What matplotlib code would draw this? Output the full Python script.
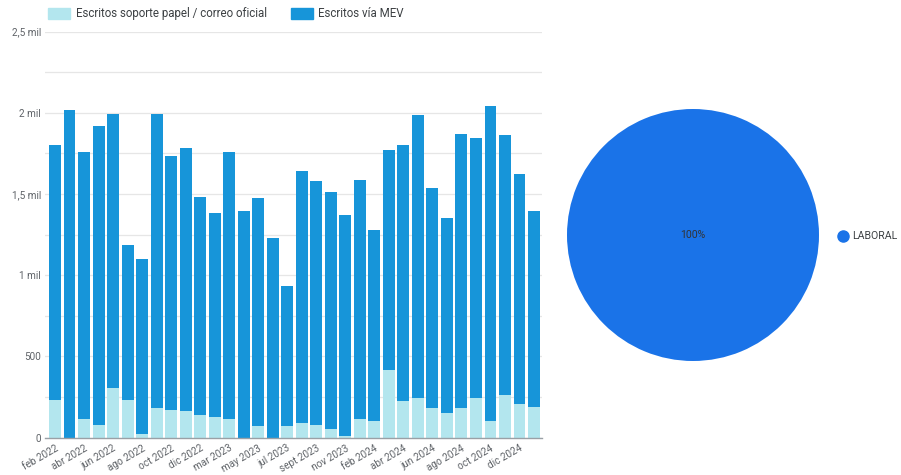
import matplotlib.pyplot as plt
from matplotlib.lines import Line2D
from matplotlib.patches import Rectangle

plt.rcParams['font.family'] = ['Roboto', 'DejaVu Sans']

# months shown (January is judicial recess, no data)
months = ['feb 2022', 'mar 2022', 'abr 2022', 'may 2022', 'jun 2022', 'jul 2022',
          'ago 2022', 'sept 2022', 'oct 2022', 'nov 2022', 'dic 2022',
          'feb 2023', 'mar 2023', 'abr 2023', 'may 2023', 'jun 2023', 'jul 2023',
          'ago 2023', 'sept 2023', 'oct 2023', 'nov 2023', 'dic 2023',
          'feb 2024', 'mar 2024', 'abr 2024', 'may 2024', 'jun 2024', 'jul 2024',
          'ago 2024', 'sept 2024', 'oct 2024', 'nov 2024', 'dic 2024', 'feb 2025']

totales = [1800, 2015, 1760, 1922, 1992, 1185, 1097, 1990, 1735, 1781, 1480,
           1380, 1760, 1398, 1475, 1226, 934, 1642, 1580, 1510, 1370, 1584,
           1278, 1770, 1800, 1986, 1538, 1354, 1870, 1846, 2040, 1866, 1622, 1398]

papel = [230, 0, 113, 77, 303, 230, 20, 180, 169, 163, 139,
         128, 114, 0, 71, 0, 71, 91, 77, 52, 11, 114,
         102, 416, 225, 245, 180, 153, 184, 241, 104, 262, 206, 190]

mev = [t - p for t, p in zip(totales, papel)]

series = ['Escritos soporte papel / correo oficial', 'Escritos vía MEV']
pie_labels = ['LABORAL']
pie_values = [100]

c_papel = '#b3e6ee'
c_mev = '#1795d9'
c_pie = '#1a73e8'
gris = '#5f6368'

W, H = 901, 475
fig = plt.figure(figsize=(W / 100, H / 100), dpi=100)

# bar chart
ax = fig.add_axes([45 / W, 37.5 / H, 497 / W, 405.8 / H])
x = list(range(len(months)))
ax.bar(x, papel, width=0.82, color=c_papel, zorder=3)
ax.bar(x, mev, bottom=papel, width=0.82, color=c_mev, zorder=3)

ax.set_ylim(0, 2500)
ax.set_xlim(-0.69, len(months) - 1 + 0.55)
ax.set_yticks([0, 500, 1000, 1500, 2000, 2500])
ax.set_yticklabels(['0', '500', '1 mil', '1,5 mil', '2 mil', '2,5 mil'])
ax.set_yticks([250, 750, 1250, 1750, 2250], minor=True)
ax.grid(axis='y', which='both', color='#e6e6e6', linewidth=0.9, zorder=0)
ax.set_xticks(x[::2])
ax.set_xticklabels(months[::2], rotation=30, ha='right', rotation_mode='anchor')
ax.tick_params(axis='both', which='both', length=0, labelsize=7.2, labelcolor=gris)
ax.tick_params(axis='y', pad=3)
ax.tick_params(axis='x', pad=4)
for s in ['top', 'right', 'left']:
    ax.spines[s].set_visible(False)
ax.spines['bottom'].set_color('#9aa0a6')
ax.spines['bottom'].set_linewidth(1)
ax.spines['bottom'].set_zorder(4)

# legend drawn by hand to match the positions
for x0, x_txt, col, lab in [(48, 76, c_papel, series[0]), (291, 318, c_mev, series[1])]:
    fig.add_artist(Rectangle((x0 / W, 1 - 19 / H), 22 / W, 11 / H,
                             transform=fig.transFigure, color=col))
    fig.text(x_txt / W, 1 - 13.5 / H, lab, fontsize=8.3, color='#3c4043',
             ha='left', va='center')

# pie chart
axp = fig.add_axes([567 / W, 114 / H, 252 / W, 252 / H])
axp.pie(pie_values, colors=[c_pie], startangle=90, autopct='%d%%',
        pctdistance=0.0, textprops={'fontsize': 7.5, 'color': '#333333'})
axp.set_xlim(-1, 1)
axp.set_ylim(-1, 1)
axp.set_aspect('equal')
axp.axis('off')

fig.add_artist(Line2D([843 / W], [1 - 236 / H], marker='o', linestyle='',
                      markersize=8, color=c_pie, transform=fig.transFigure))
fig.text(852 / W, 1 - 236 / H, pie_labels[0], fontsize=7.6, color='#3c4043',
         ha='left', va='center')

fig.savefig('out.png', dpi=100)
